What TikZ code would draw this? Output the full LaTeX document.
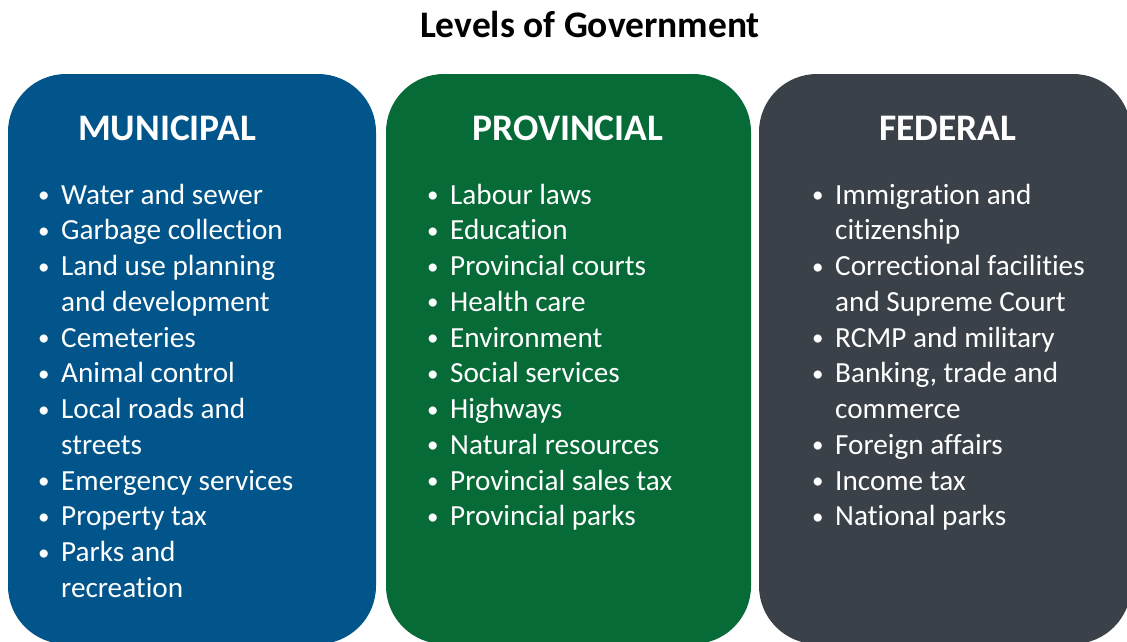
\documentclass[tikz,border=0pt]{standalone}
\usepackage{fontspec}
\setmainfont{Carlito}[Ligatures=NoCommon]
\definecolor{muniblue}{RGB}{2,85,139}
\definecolor{provgreen}{RGB}{6,107,55}
\definecolor{fedgray}{RGB}{59,65,73}
\newcommand{\bul}{\makebox[24pt][l]{\hspace*{1pt}\raisebox{1.5pt}{\fontsize{23}{23}\selectfont •}}}
\newcommand{\ind}{\hspace*{24pt}}
\tikzset{
  panel/.style={fill=#1, draw=none, rounded corners=58pt},
  heading/.style={text=white, font=\fontsize{37.5}{43}\selectfont\bfseries, anchor=base, inner sep=0pt},
  itemlist/.style={text=white, font=\fontsize{29.2}{35.75}\selectfont, anchor=base west, inner sep=0pt},
  titletext/.style={text=black, font=\fontsize{37.5}{43}\selectfont\bfseries, anchor=base, inner sep=0pt}
}
\begin{document}
\begin{tikzpicture}[x=1pt,y=-1pt]
\path[use as bounding box] (0,0) rectangle (1127,641);
\fill[white] (0,0) rectangle (1127,641);
\begin{scope}
\clip (0,0) rectangle (1127,641);
\path[panel=muniblue] (8,74) rectangle (376,644);
\path[panel=provgreen] (386,74) rectangle (751,644);
\path[panel=fedgray] (759,74) rectangle (1131,644);
\end{scope}
\node[titletext] (title) at (590,37) {Levels of Government};
\node[heading] (munih) at (167,140) {MUNICIPAL};
\node[heading] (provh) at (568,140) {PROVINCIAL};
\node[heading] (fedh) at (948,140) {FEDERAL};
\node[itemlist] (munil) at (37,204) {\begin{tabular}[t]{@{}l@{}}
\bul Water and sewer\\
\bul Garbage collection\\
\bul Land use planning\\
\ind and development\\
\bul Cemeteries\\
\bul Animal control\\
\bul Local roads and\\
\ind streets\\
\bul Emergency services\\
\bul Property tax\\
\bul Parks and\\
\ind recreation
\end{tabular}};
\node[itemlist] (provl) at (426,204) {\begin{tabular}[t]{@{}l@{}}
\bul Labour laws\\
\bul Education\\
\bul Provincial courts\\
\bul Health care\\
\bul Environment\\
\bul Social services\\
\bul Highways\\
\bul Natural resources\\
\bul Provincial sales tax\\
\bul Provincial parks
\end{tabular}};
\node[itemlist] (fedl) at (811,204) {\begin{tabular}[t]{@{}l@{}}
\bul Immigration and\\
\ind citizenship\\
\bul Correctional facilities\\
\ind and Supreme Court\\
\bul RCMP and military\\
\bul Banking, trade and\\
\ind commerce\\
\bul Foreign affairs\\
\bul Income tax\\
\bul National parks
\end{tabular}};
\end{tikzpicture}
\end{document}
